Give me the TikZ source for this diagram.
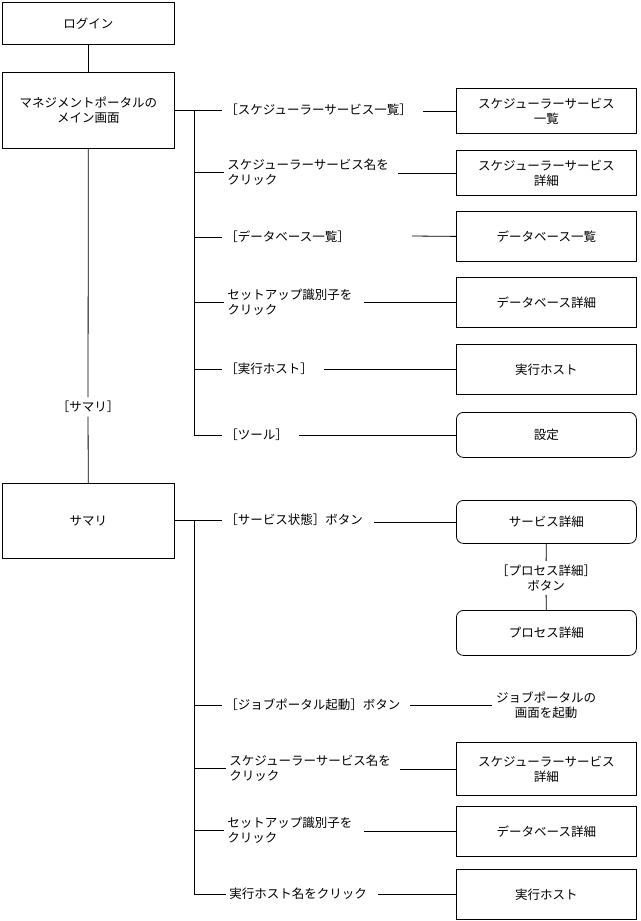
\documentclass[tikz,border=0pt]{standalone}
\usepackage{fontspec}
\setmainfont{Noto Sans CJK JP}
\begin{document}
\begin{tikzpicture}[x=1pt,y=-1pt,font=\fontsize{12.5}{15}\selectfont,
  line width=0.8pt,
  bx/.style={draw,minimum width=172pt,anchor=north west,inner sep=0pt,align=center},
  rb/.style={draw,minimum width=180pt,anchor=north west,inner sep=0pt,align=center},
  rr/.style={rb,rounded corners=7pt},
  lb/.style={anchor=west,align=left,inner sep=3pt}]
\useasboundingbox (0,0) rectangle (640,921);
\node[bx,minimum height=42pt] (login) at (2,2) {ログイン};
\node[bx,minimum height=76pt] (main) at (2,72) {マネジメントポータルの\\メイン画面};
\node[bx,minimum height=75pt] (sum) at (2,483) {サマリ};
\node (sl) at (88,407) {［サマリ］};
\draw (login) -- (main);
\draw (main) -- (sl) -- (sum);
% right boxes upper
\node[rb,minimum height=45pt] (r1) at (456,88) {スケジューラーサービス\\一覧};
\node[rb,minimum height=45pt] (r2) at (456,150) {スケジューラーサービス\\詳細};
\node[rb,minimum height=50pt] (r3) at (456,211) {データベース一覧};
\node[rb,minimum height=50pt] (r4) at (456,277) {データベース詳細};
\node[rb,minimum height=50pt] (r5) at (456,344) {実行ホスト};
\node[rr,minimum height=45pt] (r6) at (456,412) {設定};
\coordinate (t1) at (194,110); \coordinate (t6) at (194,435);
\node[lb] (l1) at (222,110) {［スケジューラーサービス一覧］};
\node[lb] (l2) at (224,172) {スケジューラーサービス名を\\クリック};
\node[lb] (l3) at (222,237) {［データベース一覧］};
\node[lb] (l4) at (224,302) {セットアップ識別子を\\クリック};
\node[lb] (l5) at (222,369) {［実行ホスト］};
\node[lb] (l6) at (222,435) {［ツール］};
\draw (main.east |- t1) -- (l1.west);
\draw (t1) -- (t6);
\draw (194,172) -- (l2.west);
\draw (194,237) -- (l3.west);
\draw (194,302) -- (l4.west);
\draw (194,369) -- (l5.west);
\draw (194,435) -- (l6.west);
\draw (r1.west) -- ([xshift=8pt]r1.west -| l1.east);
\draw (r2.west) -- ([xshift=6pt]r2.west -| l2.east);
\draw (r3.west) -- (412,236);
\draw (r4.west) -- ([xshift=8pt]r4.west -| l4.east);
\draw (r5.west) -- ([xshift=8pt]r5.west -| l5.east);
\draw (r6.west) -- ([xshift=8pt]r6.west -| l6.east);
% lower
\node[rr,minimum height=43pt] (s1) at (456,500) {サービス詳細};
\node[rr,minimum height=45pt] (s2) at (456,610) {プロセス詳細};
\node[align=center] (pl) at (546,578) {［プロセス詳細］\\ボタン};
\draw (s1) -- (pl) -- (s2);
\node[align=center] (s3) at (546,705) {ジョブポータルの\\画面を起動};
\node[rb,minimum height=53pt] (s4) at (456,742) {スケジューラーサービス\\詳細};
\node[rb,minimum height=50pt] (s5) at (456,806) {データベース詳細};
\node[rb,minimum height=50pt] (s6) at (456,869) {実行ホスト};
\node[lb] (m1) at (222,520) {［サービス状態］ボタン};
\node[lb] (m2) at (222,705) {［ジョブポータル起動］ボタン};
\node[lb] (m3) at (226,768) {スケジューラーサービス名を\\クリック};
\node[lb] (m4) at (224,830) {セットアップ識別子を\\クリック};
\node[lb] (m5) at (226,894) {実行ホスト名をクリック};
\draw (sum.east |- m1.west) -- (m1.west);
\draw (194,520) -- (194,894);
\draw (194,705) -- (m2.west);
\draw (194,768) -- (m3.west);
\draw (194,830) -- (m4.west);
\draw (194,894) -- (m5.west);
\draw (s1.west) -- ([xshift=8pt]s1.west -| m1.east);
\draw (s3.west |- 0,705) -- ([xshift=6pt]0,705 -| m2.east);
\draw (s4.west) -- ([xshift=6pt]s4.west -| m3.east);
\draw (s5.west) -- ([xshift=8pt]s5.west -| m4.east);
\draw (s6.west) -- ([xshift=8pt]s6.west -| m5.east);
\end{tikzpicture}
\end{document}
